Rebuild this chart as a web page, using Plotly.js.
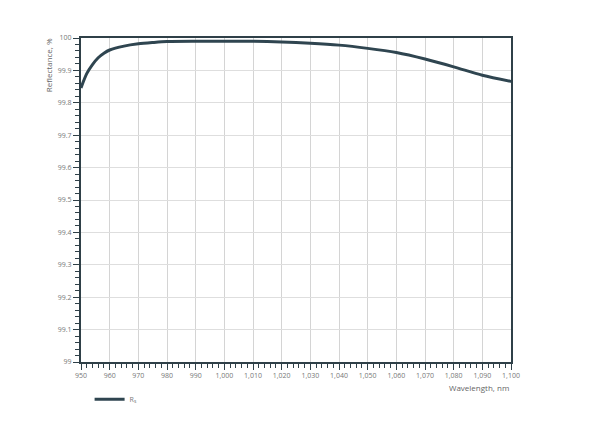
<!DOCTYPE html>
<html>
<head>
<meta charset="utf-8">
<script src="https://cdn.plot.ly/plotly-3.0.1.min.js"></script>
<style>body{margin:0;background:#fff}#chart{width:600px;height:445px}</style>
</head>
<body>
<div id="chart"></div>
<script>
const wavelength = [950, 952, 954, 956, 958, 960, 965, 970, 975, 980, 990, 1000, 1010, 1020, 1030, 1040, 1050, 1060, 1070, 1080, 1090, 1100];
const reflectance = [99.846, 99.890, 99.918, 99.939, 99.953, 99.963, 99.975, 99.982, 99.986, 99.989, 99.990, 99.990, 99.990, 99.988, 99.984, 99.978, 99.968, 99.955, 99.935, 99.911, 99.885, 99.866];
const seriesName = 'R<sub>s</sub>';
const xTicks = [950, 960, 970, 980, 990, 1000, 1010, 1020, 1030, 1040, 1050, 1060, 1070, 1080, 1090, 1100];
const yTicks = [99, 99.1, 99.2, 99.3, 99.4, 99.5, 99.6, 99.7, 99.8, 99.9, 100];

const axisColor = '#2f4048';
const data = [{
  x: wavelength, y: reflectance, name: seriesName, type: 'scatter', mode: 'lines',
  line: {color: '#2f4550', width: 3, shape: 'spline', smoothing: 0.8}
}];
const layout = {
  width: 600, height: 445,
  margin: {l: 81, r: 89, t: 38, b: 83},
  paper_bgcolor: '#fff', plot_bgcolor: '#fff',
  font: {family: 'Open Sans, sans-serif', size: 7, color: '#777'},
  showlegend: true,
  legend: {orientation: 'h', x: 0.02, y: -0.07, xanchor: 'left', yanchor: 'top',
    font: {size: 7, color: '#777'}, itemwidth: 30},
  xaxis: {
    range: [950, 1100], tickvals: xTicks, tickformat: ',d',
    showline: true, linecolor: axisColor, linewidth: 2, mirror: true,
    ticks: 'outside', ticklen: 6, tickwidth: 1, tickcolor: axisColor,
    minor: {dtick: 2, tick0: 950, ticks: 'outside', ticklen: 4, tickcolor: axisColor, showgrid: false},
    showgrid: true, gridcolor: '#d4d4d4', gridwidth: 1, zeroline: false,
    tickfont: {size: 7, color: '#777'}
  },
  yaxis: {
    range: [99, 100], tickvals: yTicks, ticktext: yTicks.map(v => String(v)),
    showline: true, linecolor: axisColor, linewidth: 2, mirror: true,
    ticks: 'outside', ticklen: 6, tickwidth: 1, tickcolor: axisColor,
    minor: {dtick: 0.02, tick0: 99, ticks: 'outside', ticklen: 4, tickcolor: axisColor, showgrid: false},
    showgrid: true, gridcolor: '#dedede', gridwidth: 1, zeroline: false,
    tickfont: {size: 7, color: '#777'}
  },
  annotations: [
    {text: 'Wavelength, nm', xref: 'paper', yref: 'paper', x: 1, y: -0.055, xanchor: 'right', yanchor: 'top', showarrow: false, font: {size: 8, color: '#666'}},
    {text: 'Reflectance, %', xref: 'paper', yref: 'paper', x: -0.075, y: 1.005, xanchor: 'center', yanchor: 'top', textangle: -90, showarrow: false, font: {size: 8, color: '#666'}}
  ]
};
Plotly.newPlot('chart', data, layout, {displayModeBar: false, staticPlot: true});
</script>
</body>
</html>
